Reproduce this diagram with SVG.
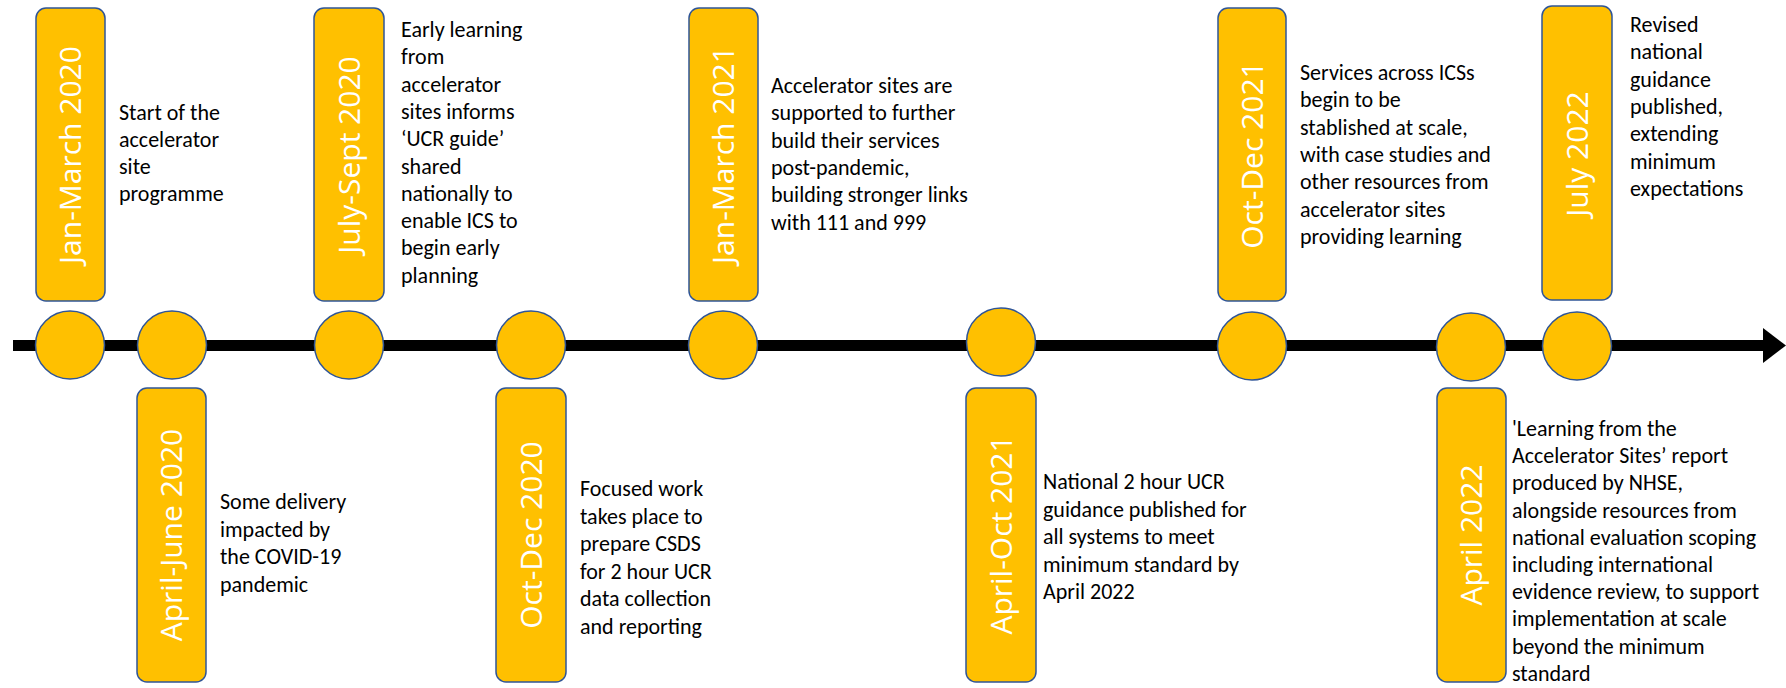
<svg xmlns="http://www.w3.org/2000/svg" width="1786" height="688" viewBox="0 0 1786 688">
<style>
.box{fill:#FFC000;stroke:#2F5597;stroke-width:1.5}
.dot{fill:#FFC000;stroke:#2F5597;stroke-width:1.5}
.lbl{font-family:"Open Sans","Noto Sans",sans-serif;font-size:30px;fill:#FFFFFF;text-anchor:middle}
.desc{font-family:Carlito,Lato,"Liberation Sans",sans-serif;font-size:22px;fill:#000000}
</style>
<rect width="1786" height="688" fill="#FFFFFF"/>
<g id="connectors">
<rect x="13" y="340" width="1752" height="11" fill="#000000"/>
<polygon points="1763,328 1786,345.5 1763,363" fill="#000000"/>
</g>
<g id="node-jan-mar-2020">
<ellipse class="dot" cx="70" cy="345" rx="34.5" ry="34"/>
<rect class="box" x="36" y="8" width="69" height="293" rx="10"/>
<text class="lbl" transform="translate(81,155) rotate(-90)">Jan-March 2020</text>
<text class="desc" x="119"><tspan x="119" y="120">Start of the</tspan><tspan x="119" y="147">accelerator</tspan><tspan x="119" y="174">site</tspan><tspan x="119" y="201">programme</tspan></text>
</g>
<g id="node-apr-jun-2020">
<ellipse class="dot" cx="172" cy="345" rx="34.5" ry="34"/>
<rect class="box" x="137" y="388" width="69" height="294" rx="10"/>
<text class="lbl" transform="translate(182,535) rotate(-90)">April-June 2020</text>
<text class="desc"><tspan x="220" y="509">Some delivery</tspan><tspan x="220" y="536.5">impacted by</tspan><tspan x="220" y="564">the COVID-19</tspan><tspan x="220" y="591.5">pandemic</tspan></text>
</g>
<g id="node-jul-sep-2020">
<ellipse class="dot" cx="349" cy="345" rx="34.5" ry="34"/>
<rect class="box" x="314" y="8" width="70" height="293" rx="10"/>
<text class="lbl" transform="translate(360,155) rotate(-90)">July-Sept 2020</text>
<text class="desc"><tspan x="401" y="37">Early learning</tspan><tspan x="401" y="64.3">from</tspan><tspan x="401" y="91.6">accelerator</tspan><tspan x="401" y="118.9">sites informs</tspan><tspan x="401" y="146.2">‘UCR guide’</tspan><tspan x="401" y="173.5">shared</tspan><tspan x="401" y="200.8">nationally to</tspan><tspan x="401" y="228.1">enable ICS to</tspan><tspan x="401" y="255.4">begin early</tspan><tspan x="401" y="282.7">planning</tspan></text>
</g>
<g id="node-oct-dec-2020">
<ellipse class="dot" cx="531" cy="345" rx="34.5" ry="34"/>
<rect class="box" x="496" y="388" width="70" height="294" rx="10"/>
<text class="lbl" transform="translate(542,535) rotate(-90)">Oct-Dec 2020</text>
<text class="desc"><tspan x="580" y="496">Focused work</tspan><tspan x="580" y="523.5">takes place to</tspan><tspan x="580" y="551">prepare CSDS</tspan><tspan x="580" y="578.5">for 2 hour UCR</tspan><tspan x="580" y="606">data collection</tspan><tspan x="580" y="633.5">and reporting</tspan></text>
</g>
<g id="node-jan-mar-2021">
<ellipse class="dot" cx="723" cy="345" rx="34.5" ry="34"/>
<rect class="box" x="689" y="8" width="69" height="293" rx="10"/>
<text class="lbl" transform="translate(734,155) rotate(-90)">Jan-March 2021</text>
<text class="desc"><tspan x="771" y="93">Accelerator sites are</tspan><tspan x="771" y="120.3">supported to further</tspan><tspan x="771" y="147.6">build their services</tspan><tspan x="771" y="174.9">post-pandemic,</tspan><tspan x="771" y="202.2">building stronger links</tspan><tspan x="771" y="229.5">with 111 and 999</tspan></text>
</g>
<g id="node-apr-oct-2021">
<ellipse class="dot" cx="1001" cy="342" rx="34.5" ry="34"/>
<rect class="box" x="966" y="388" width="70" height="294" rx="10"/>
<text class="lbl" transform="translate(1012,535) rotate(-90)">April-Oct 2021</text>
<text class="desc"><tspan x="1043" y="489">National 2 hour UCR</tspan><tspan x="1043" y="516.5">guidance published for</tspan><tspan x="1043" y="544">all systems to meet</tspan><tspan x="1043" y="571.5">minimum standard by</tspan><tspan x="1043" y="599">April 2022</tspan></text>
</g>
<g id="node-oct-dec-2021">
<ellipse class="dot" cx="1252" cy="346" rx="34.5" ry="34"/>
<rect class="box" x="1218" y="8" width="68" height="293" rx="10"/>
<text class="lbl" transform="translate(1263,155) rotate(-90)">Oct-Dec 2021</text>
<text class="desc"><tspan x="1300" y="80">Services across ICSs</tspan><tspan x="1300" y="107.3">begin to be</tspan><tspan x="1300" y="134.6">stablished at scale,</tspan><tspan x="1300" y="161.9">with case studies and</tspan><tspan x="1300" y="189.2">other resources from</tspan><tspan x="1300" y="216.5">accelerator sites</tspan><tspan x="1300" y="243.8">providing learning</tspan></text>
</g>
<g id="node-apr-2022">
<ellipse class="dot" cx="1471" cy="347" rx="34.5" ry="34"/>
<rect class="box" x="1437" y="388" width="69" height="294" rx="10"/>
<text class="lbl" transform="translate(1482,535) rotate(-90)">April 2022</text>
<text class="desc"><tspan x="1512" y="436">'Learning from the</tspan><tspan x="1512" y="463.2">Accelerator Sites’ report</tspan><tspan x="1512" y="490.4">produced by NHSE,</tspan><tspan x="1512" y="517.6">alongside resources from</tspan><tspan x="1512" y="544.8">national evaluation scoping</tspan><tspan x="1512" y="572">including international</tspan><tspan x="1512" y="599.2">evidence review, to support</tspan><tspan x="1512" y="626.4">implementation at scale</tspan><tspan x="1512" y="653.6">beyond the minimum</tspan><tspan x="1512" y="680.8">standard</tspan></text>
</g>
<g id="node-jul-2022">
<ellipse class="dot" cx="1577" cy="346" rx="34.5" ry="34"/>
<rect class="box" x="1542" y="6" width="70" height="294" rx="10"/>
<text class="lbl" transform="translate(1588,154) rotate(-90)">July 2022</text>
<text class="desc"><tspan x="1630" y="32">Revised</tspan><tspan x="1630" y="59.3">national</tspan><tspan x="1630" y="86.6">guidance</tspan><tspan x="1630" y="113.9">published,</tspan><tspan x="1630" y="141.2">extending</tspan><tspan x="1630" y="168.5">minimum</tspan><tspan x="1630" y="195.8">expectations</tspan></text>
</g>
</svg>
